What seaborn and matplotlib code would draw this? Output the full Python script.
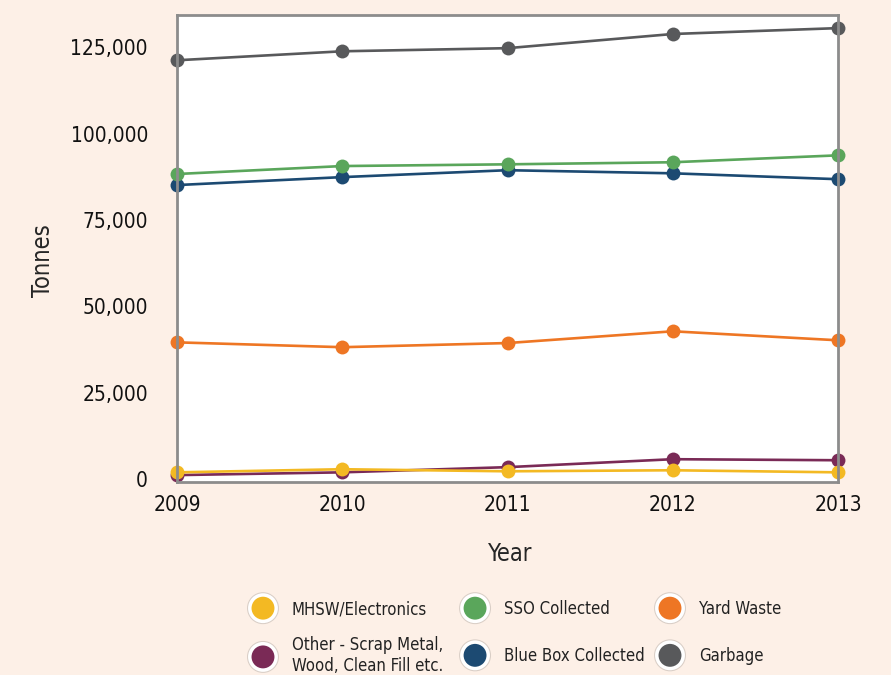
import pandas as pd
import matplotlib.pyplot as plt
import matplotlib.patheffects as pe
from matplotlib.lines import Line2D
from matplotlib.ticker import FuncFormatter
import seaborn as sns

years = [2009, 2010, 2011, 2012, 2013]
garbage = [121200, 123800, 124700, 128800, 130500]
sso = [88300, 90600, 91100, 91700, 93700]
blue_box = [85100, 87400, 89400, 88500, 86800]
yard_waste = [39600, 38200, 39400, 42800, 40200]
other = [1200, 2000, 3500, 5800, 5500]
mhsw = [2000, 2900, 2300, 2600, 2000]

labels = ['MHSW/Electronics', 'Other - Scrap Metal,\nWood, Clean Fill etc.',
          'SSO Collected', 'Blue Box Collected', 'Yard Waste', 'Garbage']
colors = ['#F3B923', '#7A2A56', '#5AA65B', '#1C4A72', '#EE7624', '#58595B']
series = [mhsw, other, sso, blue_box, yard_waste, garbage]

rows = []
for lab, vals in zip(labels, series):
    for yr, v in zip(years, vals):
        rows.append({'Year': yr, 'Tonnes': v, 'Type': lab})
df = pd.DataFrame(rows)

bg = '#FDF0E7'
sns.set_style('white')
plt.rcParams['font.family'] = ['DejaVu Sans']
plt.rcParams['font.stretch'] = 'condensed'

fig = plt.figure(figsize=(8.91, 6.75), dpi=100, facecolor=bg)
ax = fig.add_axes([0.1987, 0.2859, 0.7418, 0.6919])

pal = dict(zip(labels, colors))
draw_order = labels[::-1]  # yellow drawn last, on top
sns.lineplot(data=df, x='Year', y='Tonnes', hue='Type', hue_order=draw_order,
             palette=pal, marker='o', markersize=10, markeredgewidth=0,
             linewidth=1.9, legend=False, clip_on=False, ax=ax)

ax.set_xlim(2009, 2013)
ax.set_ylim(-800, 134300)
ax.set_xticks(years)
ax.set_yticks([0, 25000, 50000, 75000, 100000, 125000])
ax.yaxis.set_major_formatter(FuncFormatter(lambda v, p: f'{int(v):,}'))
ax.tick_params(axis='both', length=0, labelsize=15, colors='#111111')
ax.tick_params(axis='y', pad=21)
ax.tick_params(axis='x', pad=9)
for s in ax.spines.values():
    s.set_color('#8C8C8C')
    s.set_linewidth(2)
ax.set_xlabel('Year', fontsize=17)
ax.set_ylabel('Tonnes', fontsize=17)
ax.xaxis.set_label_coords(0.504, -0.128)
ax.yaxis.set_label_coords(-0.184, 0.475)

# legend: one small legend per column so rows line up
fs = 12
spacing = [1.1, 1.75, 1.75]
lefts = [0.2802, 0.5182, 0.7370]
for col in range(3):
    idx = [2 * col, 2 * col + 1]
    handles = [Line2D([], [], linestyle='none', marker='o', markersize=19,
                      markerfacecolor=colors[i], markeredgecolor='white',
                      markeredgewidth=2.5,
                      path_effects=[pe.withStroke(linewidth=4, foreground='#D9CEC6')])
               for i in idx]
    leg = fig.legend(handles, [labels[i] for i in idx], loc='upper left',
                     bbox_to_anchor=(lefts[col], 0.1111), frameon=False,
                     fontsize=fs, handletextpad=0.94, handlelength=1.6,
                     labelspacing=spacing[col], borderpad=0, borderaxespad=0)
    for t in leg.get_texts():
        t.set_color('#222222')

fig.savefig('out.png', dpi=100, facecolor=bg)
